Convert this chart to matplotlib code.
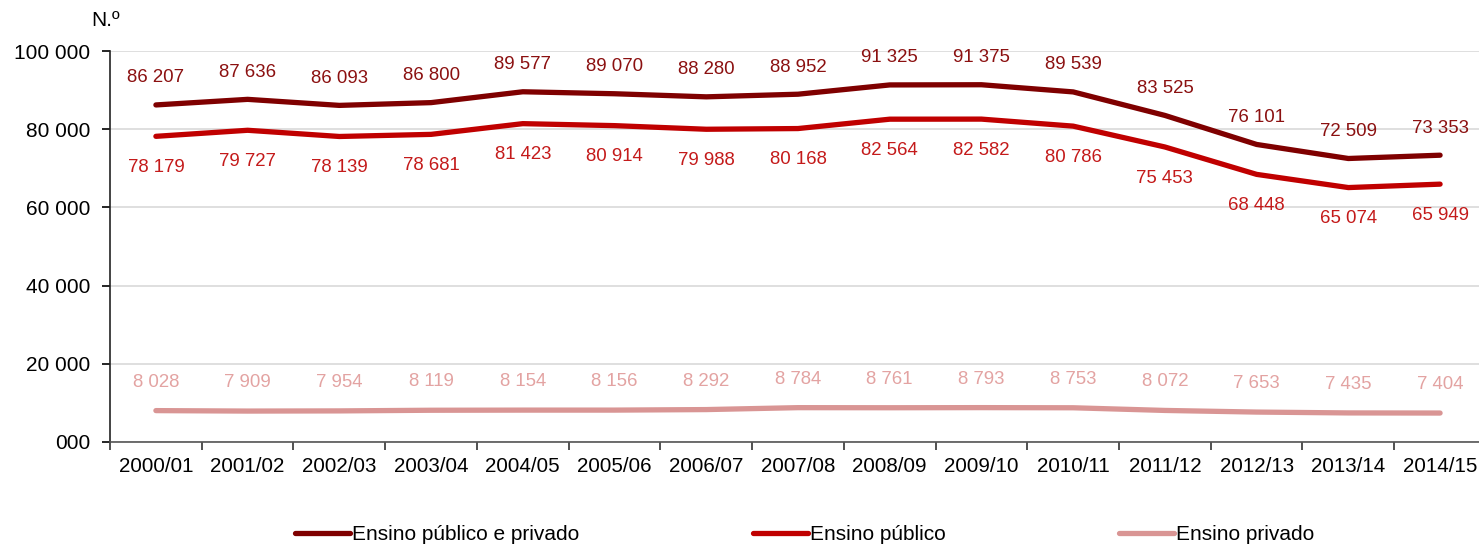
import matplotlib
matplotlib.use("Agg")
import matplotlib.pyplot as plt
from matplotlib.ticker import FixedLocator, FuncFormatter

plt.rcParams['font.family'] = ['Liberation Sans', 'DejaVu Sans']

years = ["2000/01", "2001/02", "2002/03", "2003/04", "2004/05", "2005/06", "2006/07",
         "2007/08", "2008/09", "2009/10", "2010/11", "2011/12", "2012/13", "2013/14", "2014/15"]
total = [86207, 87636, 86093, 86800, 89577, 89070, 88280, 88952, 91325, 91375,
         89539, 83525, 76101, 72509, 73353]
publico = [78179, 79727, 78139, 78681, 81423, 80914, 79988, 80168, 82564, 82582,
           80786, 75453, 68448, 65074, 65949]
privado = [8028, 7909, 7954, 8119, 8154, 8156, 8292, 8784, 8761, 8793,
           8753, 8072, 7653, 7435, 7404]
series_names = ["Ensino público e privado", "Ensino público", "Ensino privado"]
yticks = [0, 20000, 40000, 60000, 80000, 100000]


def fmt(v):
    return f"{int(v):,}".replace(",", " ")


fig = plt.figure(figsize=(14.79, 5.45), dpi=100)
ax = fig.add_axes([0.0744, 0.189, 0.9303, 0.7174])

x = list(range(len(years)))
line_colors = ["#7f0000", "#c00000", "#d99594"]
label_colors = ["#8b1010", "#c41a1a", "#e3a3a2"]
offsets = [(0, 19.5), (0, -22.5), (0, 20.5)]

for vals, name, lc, tc, (dx, dy) in zip([total, publico, privado], series_names,
                                         line_colors, label_colors, offsets):
    ax.plot(x, vals, color=lc, lw=3.8, solid_capstyle="round", solid_joinstyle="round",
            label=name, zorder=3)
    for xi, v in zip(x, vals):
        ax.annotate(fmt(v), (xi, v), xytext=(dx, dy), textcoords="offset points",
                    ha="center", va="center", color=tc, fontsize=13.4)

ax.set_xlim(-0.5, len(years) - 0.5)
ax.set_ylim(0, 100000)
ax.set_yticks(yticks)
ax.yaxis.set_major_formatter(FuncFormatter(lambda v, p: "000" if v == 0 else fmt(v)))
ax.grid(axis="y", color="#d9d9d9", lw=1.2, zorder=0)
ax.set_axisbelow(True)

ax.set_xticks(x)
ax.set_xticklabels(years)
ax.xaxis.set_minor_locator(FixedLocator([i - 0.5 for i in range(len(years) + 1)]))
ax.tick_params(axis="x", which="major", length=0, pad=11, labelsize=14.8)
ax.tick_params(axis="x", which="minor", length=6, width=1.2, color="#333333")
ax.tick_params(axis="y", length=6, width=1.2, labelsize=15, pad=8)

for s in ["top", "right"]:
    ax.spines[s].set_visible(False)
ax.spines["left"].set_color("#222222")
ax.spines["left"].set_linewidth(1.2)
ax.spines["bottom"].set_color("#555555")
ax.spines["bottom"].set_linewidth(1.2)

fig.text(0.0615, 0.962, "N.º", fontsize=15, ha="left", va="center")

fig.legend(loc="center", bbox_to_anchor=(0.544, 0.019), ncol=3, frameon=False,
           fontsize=15, handlelength=2.65, handletextpad=0.1, columnspacing=8.3)

fig.savefig("out.png", dpi=100)
